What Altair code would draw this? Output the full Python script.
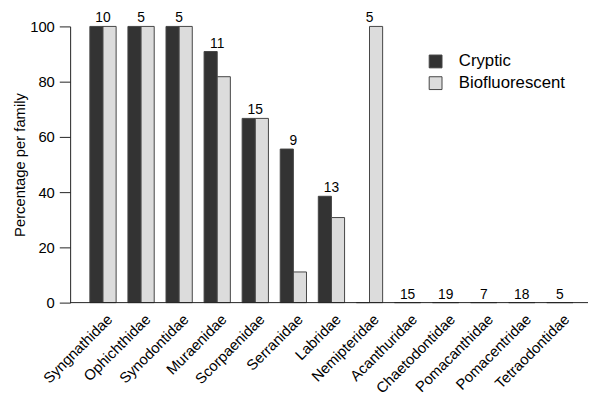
import altair as alt
import pandas as pd

families = ["Syngnathidae", "Ophichthidae", "Synodontidae", "Muraenidae", "Scorpaenidae",
            "Serranidae", "Labridae", "Nemipteridae", "Acanthuridae", "Chaetodontidae",
            "Pomacanthidae", "Pomacentridae", "Tetraodontidae"]
cryptic = [100, 100, 100, 90.9, 66.7, 55.6, 38.5, 0, 0, 0, 0, 0, 0]
biofluorescent = [100, 100, 100, 81.8, 66.7, 11.1, 30.8, 100, 0, 0, 0, 0, 0]
n_species = [10, 5, 5, 11, 15, 9, 13, 5, 15, 19, 7, 18, 5]
series = ["Cryptic", "Biofluorescent"]

long_rows = []
for f, c, b in zip(families, cryptic, biofluorescent):
    long_rows.append({"family": f, "series": "Cryptic", "value": c})
    long_rows.append({"family": f, "series": "Biofluorescent", "value": b})
bars_df = pd.DataFrame(long_rows)
labels_df = pd.DataFrame({"family": families, "n": n_species,
                          "cryptic": cryptic, "bio": biofluorescent})

FONT = "Liberation Sans"
W, H = 525, 280

xscale = alt.Scale(domain=families, paddingInner=0.31, paddingOuter=0.456, align=0.568)
yscale = alt.Scale(domain=[0, 100], nice=False)

bars = alt.Chart(bars_df).mark_bar(stroke="#444444", strokeWidth=1).encode(
    x=alt.X("family:N", scale=xscale, sort=families,
            axis=alt.Axis(title=None, domain=False, ticks=False, labelAngle=-45,
                          labelAlign="right", labelBaseline="middle", labelPadding=14,
                          labelOffset=7, labelBound=False, labelOverlap=False,
                          labelFontSize=15, labelFont=FONT, labelColor="black")),
    xOffset=alt.XOffset("series:N", sort=series, scale=alt.Scale(domain=series, paddingInner=0, paddingOuter=0)),
    y=alt.Y("value:Q", scale=yscale,
            axis=alt.Axis(title="Percentage per family", values=[0, 20, 40, 60, 80, 100],
                          grid=False, tickSize=11, tickColor="#222222", domainColor="#222222",
                          labelPadding=5, labelFontSize=15, labelFont=FONT, labelColor="black",
                          titleFontSize=15, titleFont=FONT, titleFontWeight="normal",
                          titleColor="black", titlePadding=2)),
    color=alt.Color("series:N", sort=series,
                    scale=alt.Scale(domain=series, range=["#333333", "#dcdcdc"]),
                    legend=alt.Legend(title=None, orient="none", legendX=362, legendY=27,
                                      symbolType="square", symbolSize=169,
                                      symbolStrokeColor="#444444", symbolStrokeWidth=1,
                                      labelFontSize=17, labelFont=FONT, labelColor="black",
                                      labelOffset=15, rowPadding=4)),
)

labels = alt.Chart(labels_df).transform_calculate(
    top="max(datum.cryptic, datum.bio)"
).mark_text(baseline="bottom", dy=-1, fontSize=14, font=FONT, color="black").encode(
    x=alt.X("family:N", scale=xscale, sort=families),
    y=alt.Y("top:Q", scale=yscale),
    text="n:Q",
)

baseline = alt.Chart(pd.DataFrame({"y": [0]})).mark_rule(color="#222222", strokeWidth=1).encode(
    y=alt.Y("y:Q", scale=yscale),
    x=alt.value(0),
    x2=alt.value(W + 10),
)

chart = alt.layer(bars, baseline, labels).properties(
    width=W, height=H,
    autosize=alt.AutoSizeParams(type="none"),
    padding={"left": 63, "top": 16, "right": 0, "bottom": 93},
).configure_view(stroke=None)

chart.save("out.html", embed_options={"renderer": "svg", "actions": False})
